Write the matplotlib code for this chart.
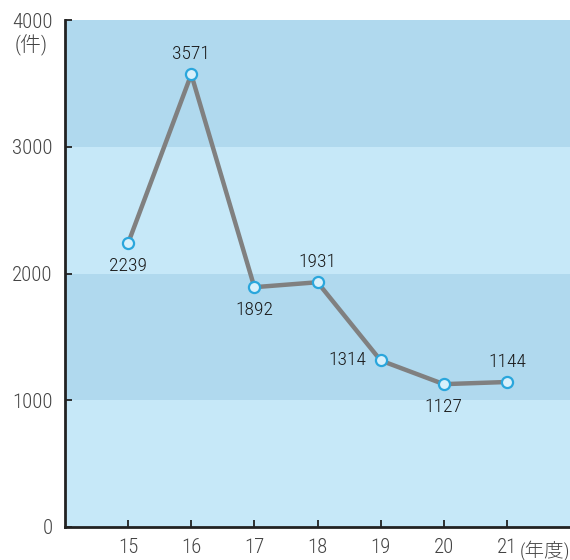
import matplotlib.pyplot as plt

plt.rcParams['font.family'] = ['Roboto Condensed', 'Noto Sans CJK JP', 'DejaVu Sans']

years = [15, 16, 17, 18, 19, 20, 21]
counts = [2239, 3571, 1892, 1931, 1314, 1127, 1144]
# where each value label sits relative to its point
label_pos = ['below', 'above', 'below', 'above', 'left', 'below', 'above']
y_ticks = [0, 1000, 2000, 3000, 4000]

light = '#c6e8f8'
dark = '#b0d9ee'

fig = plt.figure(figsize=(5.7, 5.6), dpi=100)
ax = fig.add_axes([65 / 570, 33 / 560, 505 / 570, 507 / 560])

# alternating background bands
for i in range(4):
    ax.axhspan(i * 1000, (i + 1) * 1000, color=dark if i % 2 else light, lw=0, zorder=0)

ax.plot(years, counts, color='#808080', lw=3.2, zorder=2, solid_capstyle='round')
ax.plot(years, counts, 'o', ms=8, mfc='#d8f0fb', mec='#2aa6dc', mew=1.6, zorder=3)

offsets = {'below': (0, -10, 'center', 'top'),
           'above': (0, 8, 'center', 'bottom'),
           'left': (-10, 0, 'right', 'center')}
for x, y, p in zip(years, counts, label_pos):
    dx, dy, ha, va = offsets[p]
    ax.annotate(str(y), (x, y), xytext=(dx, dy), textcoords='offset points',
                ha=ha, va=va, fontsize=14, color='#1a1a1a', fontweight='light')

ax.set_xlim(14, 22)
ax.set_ylim(0, 4000)
ax.set_xticks(years)
ax.set_xticklabels([str(v) for v in years])
ax.set_yticks(y_ticks)
ax.set_yticklabels([str(v) for v in y_ticks])
ax.tick_params(direction='in', length=5, width=1.3, labelsize=15, colors='#222222',
               labelcolor='#444444')
ax.tick_params(axis='x', pad=8)
ax.tick_params(axis='y', pad=9)
for lab in ax.get_xticklabels() + ax.get_yticklabels():
    lab.set_fontweight('light')

for s in ['top', 'right']:
    ax.spines[s].set_visible(False)
for s in ['left', 'bottom']:
    ax.spines[s].set_linewidth(2)
    ax.spines[s].set_color('#222222')

ax.text(-0.10, 0.95, '(件)', transform=ax.transAxes, ha='left', va='center',
        fontsize=15, color='#444444', fontweight='light')
ax.text(21.2, -0.026, '(年度)', transform=ax.get_xaxis_transform(), ha='left', va='top',
        fontsize=14, color='#444444', fontweight='light')

fig.savefig('out.png', dpi=100)
